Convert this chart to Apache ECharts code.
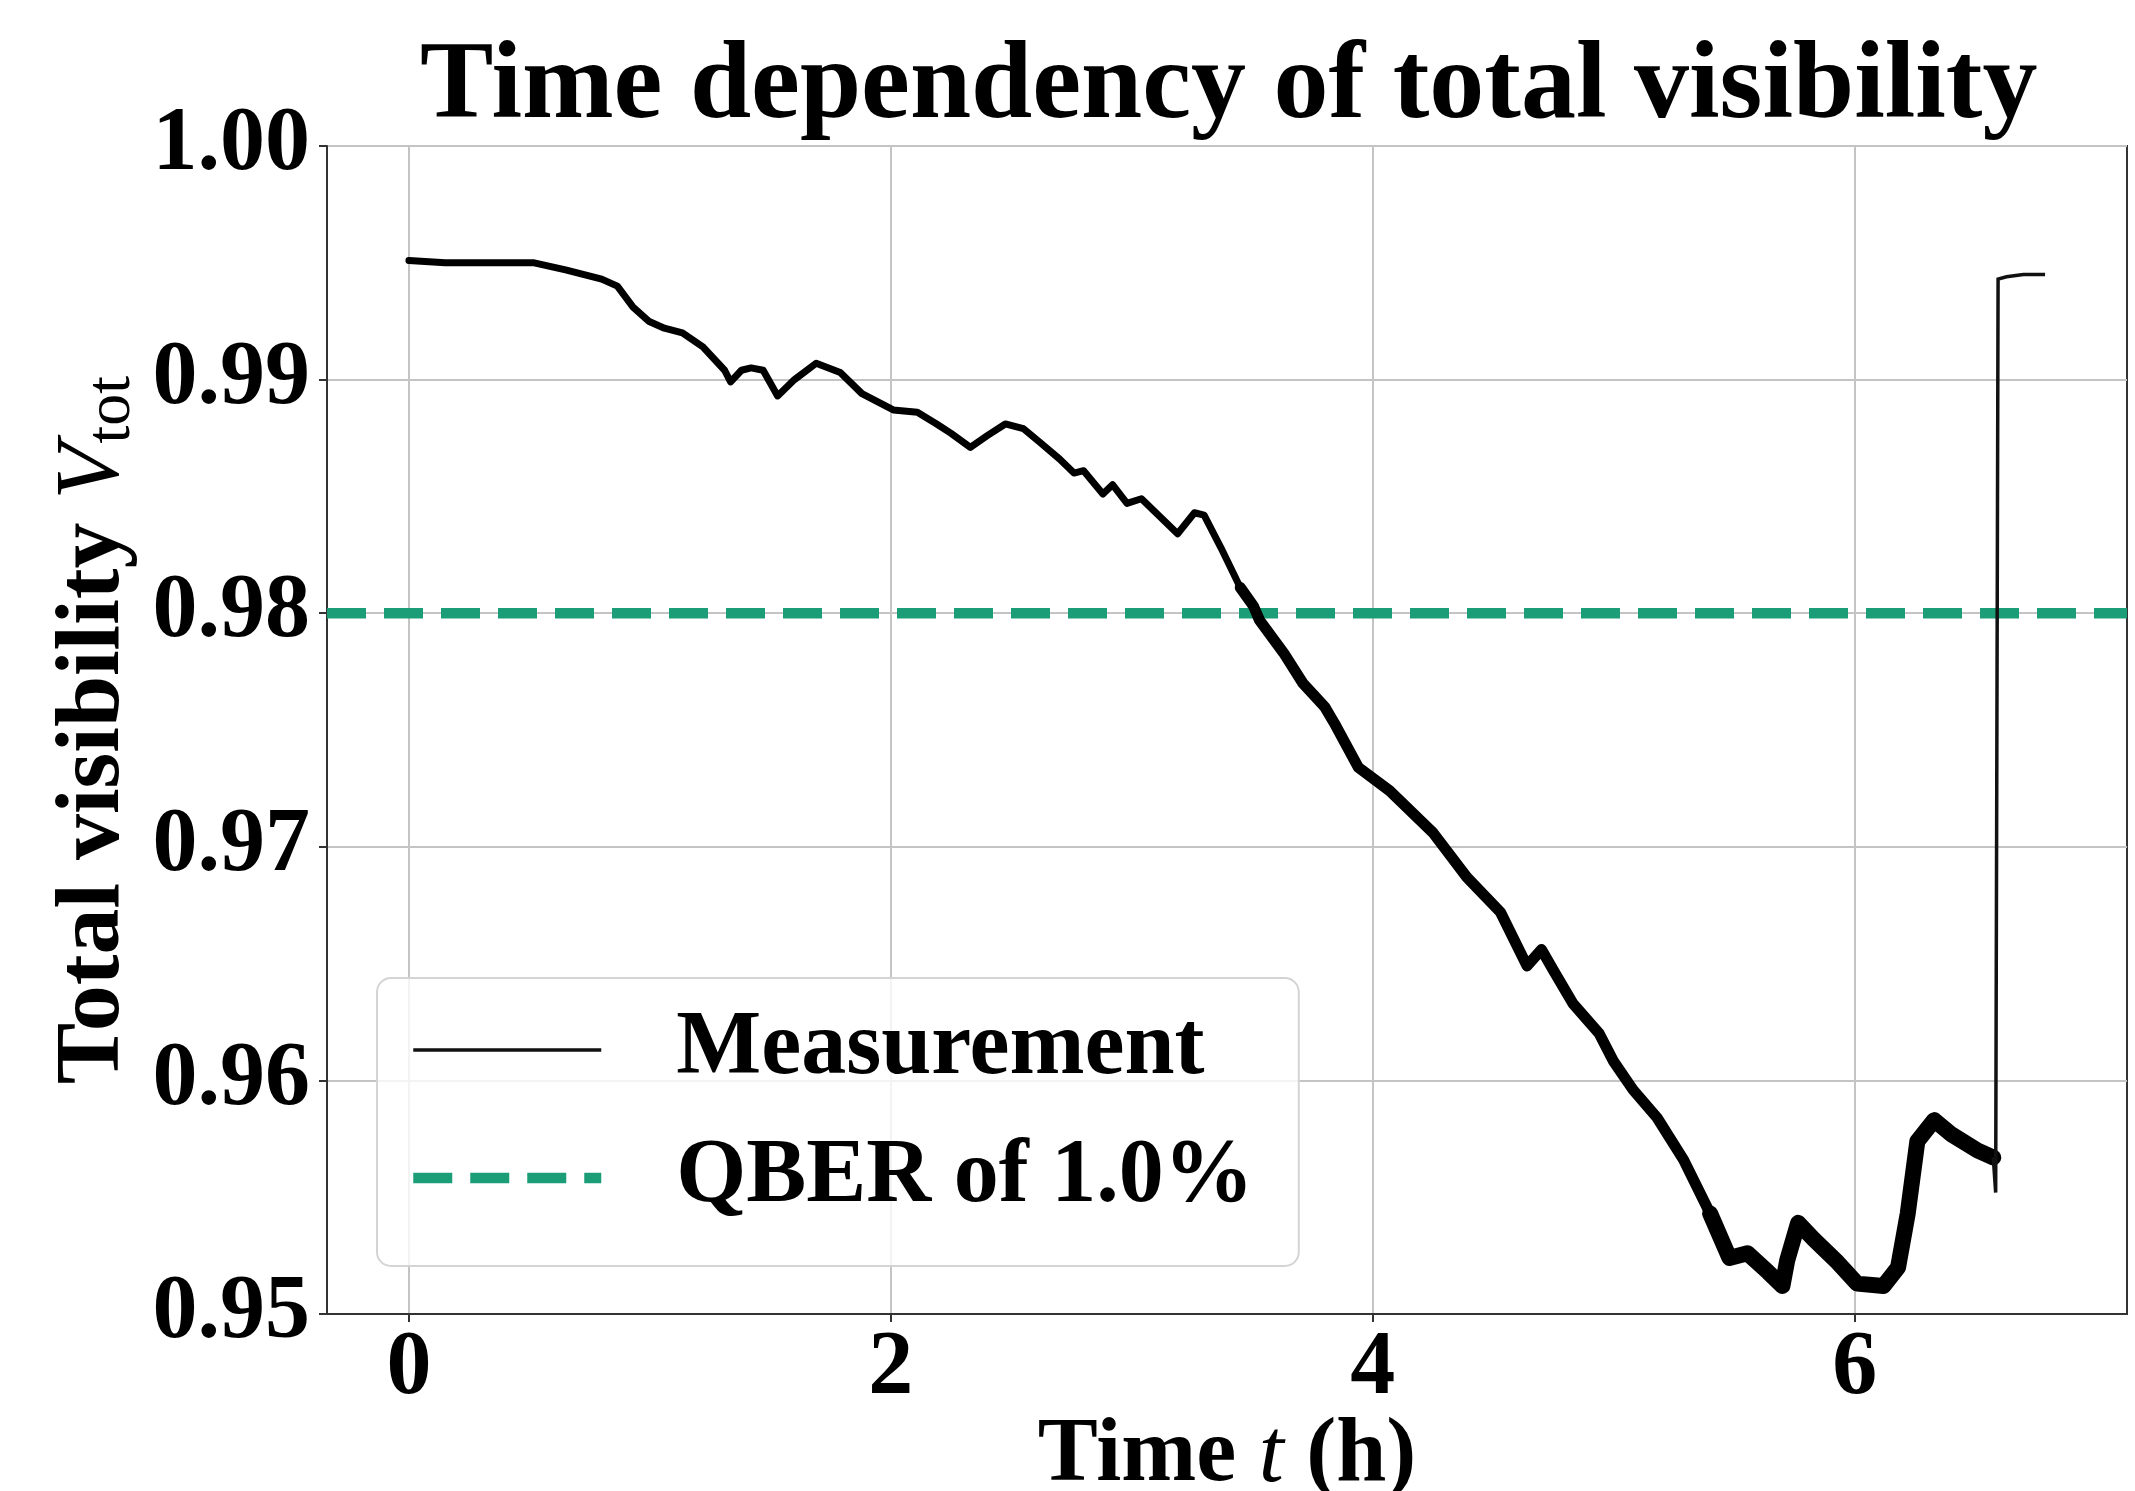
<!DOCTYPE html>
<html><head><meta charset="utf-8">
<script src="https://cdn.jsdelivr.net/npm/echarts@6/dist/echarts.min.js"></script>
<style>html,body{margin:0;padding:0;background:#fff}#c{width:2135px;height:1491px}</style>
</head><body><div id="c"></div>
<script>
// ---- data ----
const timeHours = [0.00,0.15,0.30,0.52,0.65,0.80,0.865,0.93,0.995,1.06,1.135,1.22,1.31,1.335,1.38,1.42,1.47,1.53,1.60,1.69,1.79,1.88,2.01,2.11,2.19,2.25,2.33,2.40,2.475,2.55,2.62,2.70,2.76,2.80,2.88,2.92,2.98,3.04,3.13,3.19,3.26,3.30,3.37,3.45,3.505,3.53,3.63,3.71,3.80,3.84,3.94,4.07,4.25,4.39,4.53,4.64,4.70,4.75,4.83,4.94,5.00,5.08,5.18,5.29,5.40,5.48,5.555,5.64,5.70,5.72,5.765,5.83,5.93,6.01,6.12,6.18,6.22,6.26,6.33,6.40,6.51,6.575,6.585,6.595,6.63,6.70,6.79];
const visibility = [0.9951,0.9950,0.9950,0.9950,0.9947,0.9943,0.9940,0.9931,0.9925,0.9922,0.9920,0.9914,0.9904,0.9899,0.9904,0.9905,0.9904,0.9893,0.9900,0.9907,0.9903,0.9894,0.9887,0.9886,0.9881,0.9877,0.9871,0.9876,0.9881,0.9879,0.9873,0.9866,0.9860,0.9861,0.9851,0.9855,0.9847,0.9849,0.9840,0.9834,0.9843,0.9842,0.9828,0.9811,0.9803,0.9797,0.9783,0.9770,0.9760,0.9753,0.9734,0.9724,0.9706,0.9687,0.9672,0.9649,0.9656,0.9647,0.9633,0.9620,0.9608,0.9596,0.9584,0.9566,0.9543,0.9524,0.9526,0.9518,0.9512,0.9523,0.9539,0.9532,0.9522,0.9513,0.9512,0.9520,0.9543,0.9574,0.9583,0.9577,0.9570,0.9567,0.9552,0.9943,0.9944,0.9945,0.9945];
const qberThreshold = 0.98;
const xTicks = [0, 2, 4, 6];
const yTicks = [0.95, 0.96, 0.97, 0.98, 0.99, 1.00];
const xRange = [-0.34, 7.13];
const yRange = [0.95, 1.00];
const titleText = 'Time dependency of total visibility';
const seriesNames = ['Measurement', 'QBER of 1.0%'];

// ---- chart ----
const FONT = "'Liberation Serif','Times New Roman',serif";
const pts = timeHours.map((t, i) => [t, visibility[i]]);
const seg = (a, b) => pts.filter(p => p[0] >= a && p[0] <= b);

const chart = echarts.init(document.getElementById('c'), null, {renderer: 'canvas'});
const thick = (name, data, w) => ({
  name, type: 'line', data, symbol: 'none', showSymbol: false, silent: true, z: 3,
  itemStyle: {color: '#000'},
  lineStyle: {color: '#000', width: w, cap: 'round', join: 'round'}
});

chart.setOption({
  animation: false,
  backgroundColor: '#fff',
  title: {
    text: titleText, left: 415, top: 29,
    textStyle: {fontFamily: FONT, fontWeight: 'bold', fontSize: 110, color: '#000'}
  },
  grid: {left: 327, right: 8, top: 146, bottom: 177, outerBoundsMode: 'none', containLabel: false,
    show: true, borderColor: '#333', borderWidth: 2, backgroundColor: 'transparent'},
  legend: {
    data: seriesNames, orient: 'vertical', left: 377, top: 978,
    itemWidth: 188, itemHeight: 14, itemGap: 28,
    padding: [22, 45, 38, 31],
    backgroundColor: 'rgba(255,255,255,0.8)', borderColor: '#d4d4d4', borderWidth: 2, borderRadius: 14,
    itemStyle: {opacity: 0},
    lineStyle: {width: 'inherit', type: 'inherit'},
    textStyle: {fontFamily: FONT, fontWeight: 'bold', fontSize: 90, color: '#000', lineHeight: 100, padding: [0, 0, 0, 70]},
    selectedMode: false
  },
  xAxis: {
    type: 'value', min: xRange[0], max: xRange[1],
    name: '{b|Time }{i|t}{b| (h)}', nameLocation: 'middle', nameGap: 98, nameMoveOverlap: false,
    nameTextStyle: {rich: {
      b: {fontFamily: FONT, fontWeight: 'bold', fontSize: 90, color: '#000'},
      i: {fontFamily: FONT, fontStyle: 'italic', fontWeight: 'normal', fontSize: 90, color: '#000'}
    }},
    axisLine: {show: true, onZero: false, lineStyle: {color: '#333', width: 2}},
    axisTick: {show: true, customValues: xTicks, length: 8, lineStyle: {color: '#333', width: 2}},
    axisLabel: {customValues: xTicks, margin: 11, fontFamily: FONT, fontWeight: 'bold', fontSize: 90, color: '#000'},
    splitLine: {show: true, lineStyle: {color: '#c4c4c4', width: 2}}
  },
  yAxis: {
    type: 'value', min: yRange[0], max: yRange[1], interval: 0.01,
    name: '{b|Total visibility }{i|V}{s|tot}', nameLocation: 'middle', nameGap: 183, nameMoveOverlap: false,
    nameTextStyle: {rich: {
      b: {fontFamily: FONT, fontWeight: 'bold', fontSize: 92, color: '#000', lineHeight: 100},
      i: {fontFamily: FONT, fontStyle: 'italic', fontWeight: 'normal', fontSize: 92, color: '#000', lineHeight: 100},
      s: {fontFamily: FONT, fontWeight: 'normal', fontSize: 64, color: '#000', lineHeight: 64, verticalAlign: 'bottom'}
    }},
    axisLine: {show: true, onZero: false, lineStyle: {color: '#333', width: 2}},
    axisTick: {show: true, length: 8, lineStyle: {color: '#333', width: 2}},
    axisLabel: {margin: 17, fontFamily: FONT, fontWeight: 'bold', fontSize: 90, color: '#000',
      formatter: v => v.toFixed(2)},
    splitLine: {show: true, lineStyle: {color: '#c4c4c4', width: 2}}
  },
  series: [
    thick('_mA', seg(0, 3.45), 7),
    thick('_mB', seg(3.45, 5.40), 11),
    thick('_mC', seg(5.40, 6.575), 16),
    {
      name: seriesNames[0], type: 'line', data: seg(6.575, 100), symbol: 'none', showSymbol: false, silent: true, z: 3,
      itemStyle: {color: '#111'},
      lineStyle: {color: '#111', width: 3.5, join: 'miter'}
    },
    {
      name: seriesNames[1], type: 'line', data: xRange.map(x => [x, qberThreshold]),
      symbol: 'none', showSymbol: false, silent: true, z: 2,
      itemStyle: {color: '#1b9e77'},
      lineStyle: {color: '#1b9e77', width: 10.5, type: [39, 18]}
    }
  ]
});
</script>
</body></html>
